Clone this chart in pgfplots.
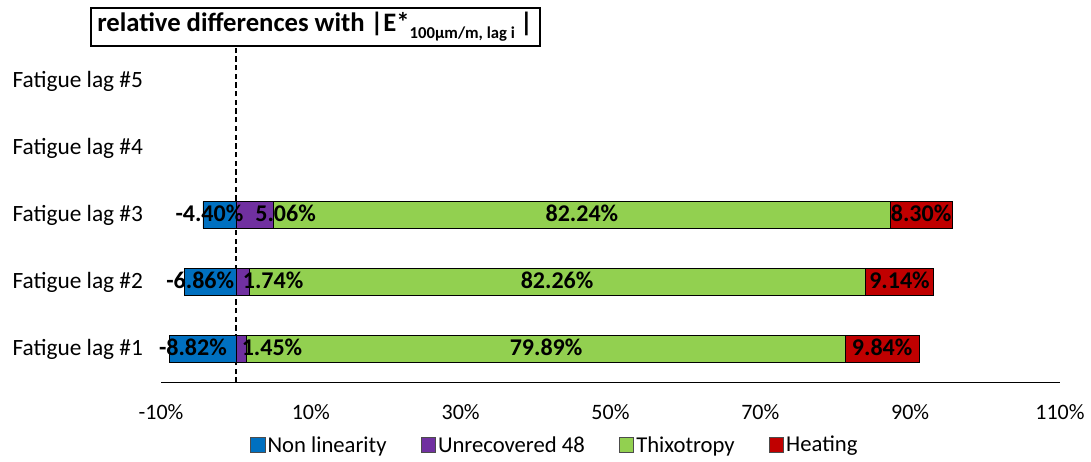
\documentclass[border=0pt]{standalone}
\usepackage{pgfplots}
\usepackage{pgfplotstable}
\pgfplotsset{compat=1.18}
\usepackage{fontspec}
\setmainfont{Carlito}
\definecolor{cNL}{RGB}{0,112,192}
\definecolor{cUR}{RGB}{112,48,160}
\definecolor{cTX}{RGB}{146,208,80}
\definecolor{cHT}{RGB}{192,0,0}
\pgfplotstableread{
lag ur tx ht nl
1 1.45 79.89 9.84 -8.82
2 1.74 82.26 9.14 -6.86
3 5.06 82.24 8.30 -4.40
}\datatable
\begin{document}
\begin{tikzpicture}[x=1pt,y=1pt]
\useasboundingbox (0,0) rectangle (818.25,345.75);
\begin{axis}[
  at={(120.75pt,58.875pt)}, anchor=south west,
  scale only axis, width=674.25pt, height=251.25pt,
  xbar stacked, bar width=20pt,
  xmin=-10, xmax=110, ymin=0.5, ymax=5.5,
  enlargelimits=false,
  xtick={-10,10,30,50,70,90,110},
  xticklabel={\pgfmathprintnumber{\tick}\%},
  ytick={1,2,3,4,5},
  yticklabels={Fatigue lag \#1,Fatigue lag \#2,Fatigue lag \#3,Fatigue lag \#4,Fatigue lag \#5},
  axis lines*=left,
  axis line style={-},
  x axis line style={black, line width=0.8pt},
  y axis line style={draw=none},
  major tick length=0pt,
  xticklabel style={font=\fontsize{16.5}{19}\selectfont, yshift=-13pt},
  yticklabel style={font=\fontsize{17.5}{20}\selectfont, xshift=-10pt},
  /pgf/number format/assume math mode=true,
  clip=false,
  point meta=explicit symbolic,
  nodes near coords={\makebox[0pt]{\pgfplotspointmeta\%}},
  every node near coord/.append style={inner sep=0pt, text=black, yshift=1pt,
     font=\bfseries\fontsize{18}{21}\selectfont},
  legend image code/.code={\draw[#1] (0pt,-5.5pt) rectangle (11pt,5.5pt);},
  legend style={at={(0.438,-0.187)}, anchor=center, legend columns=-1, draw=none,
     font=\fontsize{17}{20}\selectfont,
     nodes={inner sep=1.5pt},
     /tikz/every even column/.append style={column sep=24pt}},
]
\addplot[fill=cUR, draw=black, line width=0.6pt, forget plot,
  every node near coord/.append style={xshift=23pt}] table[x=ur, y=lag, meta=ur] {\datatable};
\addplot[fill=cTX, draw=black, line width=0.6pt, forget plot] table[x=tx, y=lag, meta=tx] {\datatable};
\addplot[fill=cHT, draw=black, line width=0.6pt, forget plot] table[x=ht, y=lag, meta=ht] {\datatable};
\addplot[fill=cNL, draw=black, line width=0.6pt, stack plots=false, forget plot,
  every node near coord/.append style={xshift=-7.5pt}] table[x=nl, y=lag, meta=nl] {\datatable};
\draw[line width=1.2pt, dash pattern=on 4pt off 2.5pt] (axis cs:0,0.5) -- (axis cs:0,5.5);
\addlegendimage{fill=cNL, draw=black!70, line width=0.6pt}
\addlegendentry{Non linearity}
\addlegendimage{fill=cUR, draw=black!70, line width=0.6pt}
\addlegendentry{Unrecovered 48}
\addlegendimage{fill=cTX, draw=black!70, line width=0.6pt}
\addlegendentry{Thixotropy}
\addlegendimage{fill=cHT, draw=black!70, line width=0.6pt}
\addlegendentry{Heating}
\end{axis}
\draw[line width=1pt] (68.25,311.25) rectangle (405,339.75);
\node[anchor=west, inner sep=0pt, font=\bfseries\fontsize{20}{24}\selectfont] at (72.75,325.5)
  {relative differences with |E*\raisebox{-5pt}{\fontsize{12.5}{14}\selectfont 100µm/m, lag i}\hspace{4pt}|};
\end{tikzpicture}
\end{document}
